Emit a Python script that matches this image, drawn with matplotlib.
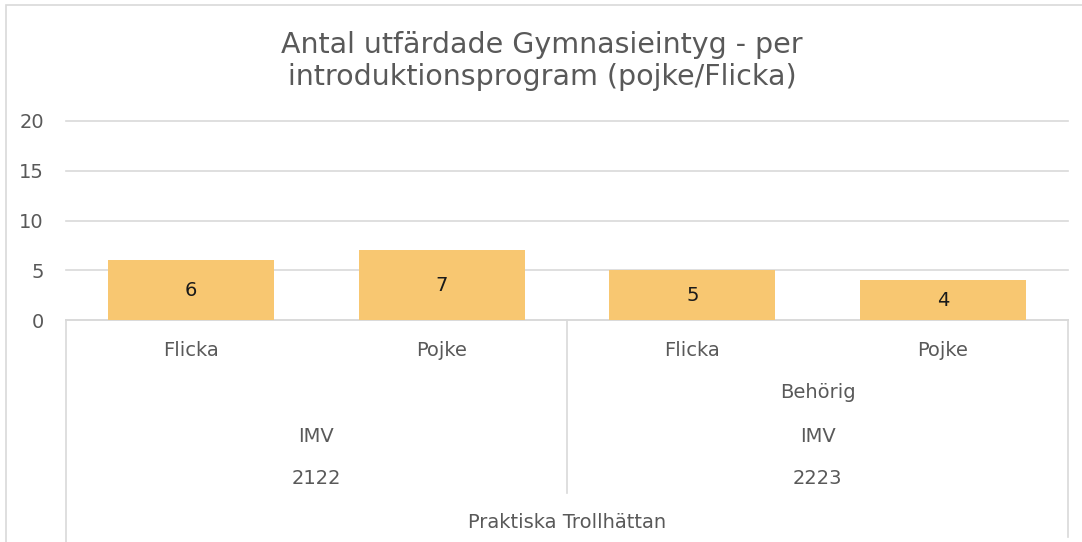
import matplotlib
matplotlib.use("Agg")
import matplotlib.pyplot as plt
from matplotlib.transforms import blended_transform_factory
from matplotlib.lines import Line2D
from matplotlib.patches import Rectangle

# ---- data ----
genders = ["Flicka", "Pojke", "Flicka", "Pojke"]
values = [6, 7, 5, 4]
status = ["", "Behörig"]
programs = ["IMV", "IMV"]
years = ["2122", "2223"]
school = "Praktiska Trollhättan"
title = "Antal utfärdade Gymnasieintyg - per\nintroduktionsprogram (pojke/Flicka)"
yticks = [0, 5, 10, 15, 20]

W, H = 1082, 542
fig = plt.figure(figsize=(W / 100, H / 100), dpi=100)
plt.rcParams['font.family'] = ['DejaVu Sans']

def fx(px):
    return px / W

def fy(py):
    return 1 - py / H

# outer chart border (partially cropped in reference)
fig.patches.append(Rectangle((fx(6), fy(560)), fx(1120) - fx(6), fy(5) - fy(560),
                             transform=fig.transFigure, fill=False,
                             edgecolor="#D9D9D9", linewidth=1.2, zorder=0))

ax_l, ax_r, ax_t, ax_b = 66, 1068, 121, 320
ax = fig.add_axes([fx(ax_l), fy(ax_b), fx(ax_r) - fx(ax_l), fy(ax_t) - fy(ax_b)])

x = list(range(len(values)))
bars = ax.bar(x, values, width=0.663, color="#F8C771", zorder=3)
ax.set_xlim(-0.5, len(values) - 0.5)
ax.set_ylim(0, 20)
ax.set_yticks(yticks)
ax.yaxis.grid(True, color="#D9D9D9", linewidth=1.2, zorder=0)
for gl in ax.get_ygridlines():
    gl.set_clip_on(False)
ax.set_xticks([])
for s in ["top", "right", "left"]:
    ax.spines[s].set_visible(False)
ax.spines["bottom"].set_color("#D9D9D9")
ax.spines["bottom"].set_linewidth(1.2)
ax.tick_params(axis="y", length=0, labelsize=14, labelcolor="#595959", pad=16)

for b, v in zip(bars, values):
    ax.text(b.get_x() + b.get_width() / 2, v / 2, str(v), ha="center", va="center",
            fontsize=14, color="#1A1A1A", zorder=4)

tr = blended_transform_factory(ax.transData, fig.transFigure)
lab = dict(ha="center", va="center", fontsize=14, color="#595959", transform=tr)

# level 1: gender
for xi, g in zip(x, genders):
    fig.text(xi, fy(350), g, **lab)
# group-level labels (2 bars per group)
for gi in range(len(years)):
    cx = 2 * gi + 0.5
    if status[gi]:
        fig.text(cx, fy(392), status[gi], **lab)
    fig.text(cx, fy(437), programs[gi], **lab)
    fig.text(cx, fy(479), years[gi], **lab)
fig.text((len(values) - 1) / 2, fy(523), school, **lab)

# category separator lines
lc = dict(color="#D9D9D9", linewidth=1.2, transform=tr, clip_on=False)
fig.add_artist(Line2D([-0.5, -0.5], [fy(320), fy(542)], **lc))
fig.add_artist(Line2D([1.5, 1.5], [fy(320), fy(493)], **lc))
fig.add_artist(Line2D([3.5, 3.5], [fy(320), fy(537)], **lc))

fig.text(fx(542), fy(61), title, ha="center", va="center", fontsize=20.5,
         color="#595959", linespacing=1.15)

fig.savefig("out.png", dpi=100, facecolor="white")
